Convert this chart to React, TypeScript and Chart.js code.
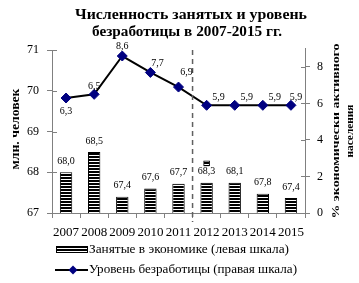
import React, { useEffect, useRef } from "react";
import { Chart, registerables } from "chart.js";

Chart.register(...registerables);

const years = ["2007", "2008", "2009", "2010", "2011", "2012", "2013", "2014", "2015"];
// values printed above the bars (mln people)
const employedLabels = [68.0, 68.5, 67.4, 67.6, 67.7, 68.3, 68.1, 67.8, 67.4];
// bar heights as drawn in the picture
const employedBars = [68.0, 68.5, 67.4, 67.6, 67.72, 67.74, 67.74, 67.47, 67.37];
// small detached piece drawn above the 2012 bar
const piece2012: (number[] | null)[] = [null, null, null, null, null, [68.15, 68.28], null, null, null];
// unemployment rate, % of economically active population
const unemployment = [6.3, 6.5, 8.6, 7.7, 6.9, 5.9, 5.9, 5.9, 5.9];

const leftTicks = [67, 68, 69, 70, 71];
const rightTicks = [0, 2, 4, 6, 8];

const titleLines = ["Численность занятых и уровень", "безработицы в 2007-2015 гг."];
const leftTitle = "млн. человек";
const rightTitle = ["% экономически активного", "населения"];
const legendBars = "Занятые в экономике (левая шкала)";
const legendLine = "Уровень безработицы (правая шкала)";

const SERIF = '"Liberation Serif", "Times New Roman", serif';
const NAVY = "#000080";

function fmt(v: number) {
  return v.toFixed(1).replace(".", ",");
}

function makePattern(): CanvasPattern | string {
  const c = document.createElement("canvas");
  c.width = 4;
  c.height = 3;
  const g = c.getContext("2d");
  if (!g) return "#444";
  g.fillStyle = "#ffffff";
  g.fillRect(0, 0, 4, 3);
  g.fillStyle = "#000000";
  g.fillRect(0, 0, 4, 2);
  const p = g.createPattern(c, "repeat");
  return p || "#444";
}

function diamond(ctx: CanvasRenderingContext2D, x: number, y: number, r: number) {
  ctx.beginPath();
  ctx.moveTo(x, y - r);
  ctx.lineTo(x + r, y);
  ctx.lineTo(x, y + r);
  ctx.lineTo(x - r, y);
  ctx.closePath();
  ctx.fill();
}

// draws text centred (or left aligned) at (x, y), stretched along its direction to a given length
function fitText(
  ctx: CanvasRenderingContext2D,
  text: string,
  x: number,
  y: number,
  len: number,
  rot: number,
  align: "center" | "left"
) {
  const w = ctx.measureText(text).width;
  const s = len / w;
  ctx.save();
  ctx.translate(x, y);
  ctx.rotate(rot);
  ctx.scale(s, 1);
  ctx.textAlign = align;
  ctx.textBaseline = "middle";
  ctx.fillText(text, 0, 0);
  ctx.restore();
}

export default function App() {
  const ref = useRef<HTMLCanvasElement | null>(null);

  useEffect(() => {
    if (!ref.current) return;
    const pattern = makePattern();

    const decor = {
      id: "decor",
      afterDatasetsDraw(chart: any) {
        const ctx: CanvasRenderingContext2D = chart.ctx;
        const x = chart.scales.x;
        const y = chart.scales.y;
        const y1 = chart.scales.y1;
        const area = chart.chartArea;
        ctx.save();
        // dashed separator between 2011 and 2012
        const sx = (x.getPixelForValue(4) + x.getPixelForValue(5)) / 2;
        ctx.strokeStyle = "#606060";
        ctx.lineWidth = 1.5;
        ctx.setLineDash([5, 4]);
        ctx.beginPath();
        ctx.moveTo(sx, area.top);
        ctx.lineTo(sx, area.bottom + 9);
        ctx.stroke();
        ctx.setLineDash([]);

        // bar labels
        ctx.fillStyle = "#000";
        ctx.font = `10px ${SERIF}`;
        ctx.textAlign = "center";
        ctx.textBaseline = "middle";
        employedBars.forEach((v, i) => {
          const px = x.getPixelForValue(i);
          const py = y.getPixelForValue(v) - 11;
          ctx.fillText(fmt(employedLabels[i]), px, py);
        });

        // line labels
        const offs = [[0, 13], [0, -8], [0, -10], [7, -9], [8, -15], [12, -8], [12, -8], [12, -8], [5, -8]];
        unemployment.forEach((v, i) => {
          const px = x.getPixelForValue(i) + offs[i][0];
          const py = y1.getPixelForValue(v) + offs[i][1];
          ctx.fillText(fmt(v), px, py);
        });

        // inner tick marks on the value axes
        ctx.strokeStyle = "#808080";
        ctx.lineWidth = 1;
        leftTicks.forEach((t) => {
          const py = Math.round(y.getPixelForValue(t)) + 0.5;
          ctx.beginPath();
          ctx.moveTo(area.left, py);
          ctx.lineTo(area.left + 5, py);
          ctx.stroke();
        });
        rightTicks.forEach((t) => {
          const py = Math.round(y1.getPixelForValue(t)) + 0.5;
          ctx.beginPath();
          ctx.moveTo(area.right - 4, py);
          ctx.lineTo(area.right, py);
          ctx.stroke();
        });
        // right axis line extends a little above the plot
        ctx.beginPath();
        ctx.moveTo(Math.round(area.right) + 0.5, area.top - 2);
        ctx.lineTo(Math.round(area.right) + 0.5, area.top);
        ctx.stroke();
        ctx.restore();
      },
      afterDraw(chart: any) {
        const ctx: CanvasRenderingContext2D = chart.ctx;
        ctx.save();
        ctx.fillStyle = "#000";
        // title
        ctx.font = `bold 15px ${SERIF}`;
        fitText(ctx, titleLines[0], 191, 15, 232, 0, "center");
        fitText(ctx, titleLines[1], 187, 32, 190, 0, "center");

        // axis titles
        ctx.font = `bold 12px ${SERIF}`;
        fitText(ctx, leftTitle, 16, 129, 81, -Math.PI / 2, "center");
        ctx.font = `bold 11px ${SERIF}`;
        fitText(ctx, rightTitle[0], 336, 131, 175, -Math.PI / 2, "center");
        fitText(ctx, rightTitle[1], 350, 131, 53, -Math.PI / 2, "center");

        // legend
        ctx.font = `12px ${SERIF}`;
        ctx.fillStyle = pattern as any;
        ctx.fillRect(56, 246, 32, 7);
        ctx.strokeStyle = "#000";
        ctx.lineWidth = 1;
        ctx.strokeRect(56.5, 246.5, 31, 6);
        ctx.fillStyle = "#000";
        fitText(ctx, legendBars, 89, 250, 200, 0, "left");

        ctx.strokeStyle = "#000";
        ctx.lineWidth = 2;
        ctx.beginPath();
        ctx.moveTo(55, 270);
        ctx.lineTo(88, 270);
        ctx.stroke();
        ctx.fillStyle = NAVY;
        diamond(ctx, 73, 270, 4.5);
        ctx.fillStyle = "#000";
        fitText(ctx, legendLine, 89, 270, 208, 0, "left");
        ctx.restore();
      },
    };

    const chart = new Chart(ref.current, {
      type: "bar",
      data: {
        labels: years,
        datasets: [
          {
            type: "line",
            label: legendLine,
            data: unemployment,
            yAxisID: "y1",
            borderColor: "#000",
            borderWidth: 2,
            pointStyle: "rectRot",
            pointRadius: 5,
            pointBackgroundColor: NAVY,
            pointBorderColor: NAVY,
            pointBorderWidth: 1,
            order: 0,
          } as any,
          {
            type: "bar",
            label: legendBars,
            data: employedBars,
            yAxisID: "y",
            backgroundColor: pattern as any,
            borderColor: "#000",
            borderWidth: 1,
            barPercentage: 0.44,
            categoryPercentage: 1,
            grouped: false,
            order: 1,
          } as any,
          {
            type: "bar",
            label: "piece",
            data: piece2012 as any,
            yAxisID: "y",
            backgroundColor: pattern as any,
            borderColor: "#000",
            borderWidth: 1,
            barThickness: 6,
            grouped: false,
            order: 1,
          } as any,
        ],
      },
      options: {
        responsive: true,
        maintainAspectRatio: false,
        animation: false,
        layout: { padding: { top: 50, left: 0, right: 0, bottom: 0 } },
        plugins: {
          legend: { display: false },
          title: { display: false },
          tooltip: { enabled: false },
        },
        scales: {
          x: {
            offset: true,
            grid: {
              offset: true,
              drawOnChartArea: false,
              drawTicks: true,
              tickLength: 5,
              color: "#808080",
            },
            border: { color: "#808080" },
            ticks: {
              color: "#000",
              font: { family: SERIF, size: 13 },
              padding: 7,
              maxRotation: 0,
              autoSkip: false,
            },
            afterFit: (s: any) => {
              s.height = 70;
            },
          },
          y: {
            position: "left",
            min: 67,
            max: 71,
            ticks: {
              stepSize: 1,
              color: "#000",
              font: { family: SERIF, size: 12 },
              padding: 8,
            },
            grid: { drawOnChartArea: false, tickLength: 5, color: "#808080" },
            border: { color: "#808080" },
            afterFit: (s: any) => {
              s.width = 52;
            },
          },
          y1: {
            position: "right",
            min: 0,
            max: 8.93,
            afterBuildTicks: (s: any) => {
              s.ticks = rightTicks.map((v) => ({ value: v }));
            },
            ticks: {
              color: "#000",
              font: { family: SERIF, size: 12 },
              padding: 7,
            },
            grid: { drawOnChartArea: false, tickLength: 5, color: "#808080" },
            border: { color: "#808080" },
            afterFit: (s: any) => {
              s.width = 54;
            },
          },
        },
      } as any,
      plugins: [decor],
    });
    return () => chart.destroy();
  }, []);

  return (
    <div style={{ position: "fixed", left: 0, top: 0, width: 359, height: 283, background: "#fff" }}>
      <canvas ref={ref} />
    </div>
  );
}
